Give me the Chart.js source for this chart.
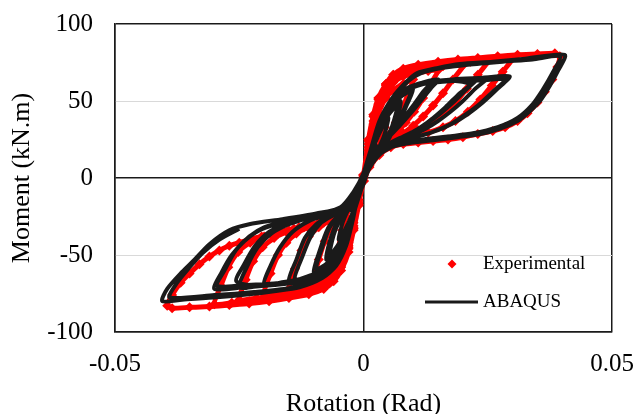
<!DOCTYPE html>
<html>
<head>
<meta charset="utf-8">
<script src="https://cdn.jsdelivr.net/npm/chart.js@4.4.0/dist/chart.umd.min.js"></script>
<style>
    html, body { margin: 0; padding: 0; background: #fff; }
    #wrap { width: 638px; height: 414px; }
</style>
</head>
<body>
<div id="wrap"><canvas id="hysteresisChart" width="638" height="414"></canvas></div>
<script>
// ==================== DATA ====================
const xTicks = [-0.05, 0, 0.05];
const yTicks = [-100, -50, 0, 50, 100];
const seriesNames = ['Experimental', 'ABAQUS'];

// test points [rotation (rad), moment (kN.m)], cycle by cycle
const experimentalPoints = [
    // +/-0.005
    [0, 0], [0.001, 14], [0.002, 26], [0.003, 35], [0.004, 41], [0.005, 45], [0.0043, 33], [0.0035, 24], [0.0025, 17], [0.0015, 10],
    [0, -2], [-0.001, -14], [-0.002, -26], [-0.003, -35], [-0.004, -42], [-0.005, -46], [-0.0043, -34], [-0.0035, -25], [-0.0025, -17], [-0.0015, -10], [0, 2],
    // +/-0.01
    [0.001, 18], [0.002, 32], [0.003, 42], [0.0045, 52], [0.006, 57], [0.008, 61], [0.01, 64], [0.009, 55], [0.0078, 45], [0.0065, 36], [0.005, 28], [0.0035, 21], [0.002, 14], [0.001, 8],
    [0, -2], [-0.001, -15], [-0.002, -29], [-0.003, -40], [-0.0045, -51], [-0.006, -57], [-0.008, -62], [-0.01, -66], [-0.009, -53], [-0.0078, -41], [-0.0065, -32], [-0.005, -26], [-0.0035, -21], [-0.002, -15], [-0.001, -8], [0, 2],
    // +/-0.015
    [0.001, 20], [0.002, 35], [0.003, 46], [0.0045, 56], [0.006, 62], [0.008, 66], [0.0105, 68], [0.013, 69.5], [0.015, 70], [0.0135, 61], [0.012, 52], [0.0102, 43], [0.0085, 36], [0.0068, 30], [0.005, 25], [0.003, 19], [0.0015, 10],
    [0, -2], [-0.001, -16], [-0.002, -31], [-0.003, -42], [-0.0045, -53], [-0.006, -60], [-0.008, -65], [-0.0105, -69], [-0.013, -71], [-0.015, -72], [-0.0138, -59], [-0.0125, -47], [-0.011, -38], [-0.009, -32], [-0.007, -28], [-0.005, -24], [-0.003, -19], [-0.0015, -11], [0, 2],
    // +/-0.02
    [0.001, 22], [0.002, 37], [0.003, 48], [0.0045, 58], [0.006, 64], [0.008, 68], [0.0105, 70], [0.013, 71.5], [0.016, 72.5], [0.02, 73], [0.018, 64], [0.016, 55], [0.014, 47], [0.012, 40], [0.01, 34], [0.008, 29], [0.006, 25], [0.004, 20], [0.002, 13],
    [0, -2], [-0.001, -17], [-0.002, -32], [-0.003, -44], [-0.0045, -56], [-0.006, -63], [-0.008, -68], [-0.0105, -71], [-0.013, -73], [-0.016, -74.5], [-0.02, -75.5], [-0.0187, -62], [-0.0172, -50], [-0.0155, -42], [-0.0135, -36], [-0.0112, -32], [-0.009, -29], [-0.0065, -26], [-0.004, -21], [-0.002, -13], [0, 2],
    // +/-0.025
    [0.001, 24], [0.002, 40], [0.003, 51], [0.0045, 60], [0.006, 66], [0.008, 69], [0.0105, 71], [0.014, 73], [0.018, 74.5], [0.0215, 75.5], [0.025, 76], [0.023, 67], [0.0208, 58], [0.0185, 49], [0.016, 42], [0.0135, 36], [0.011, 31], [0.0085, 27.5], [0.006, 24], [0.0035, 18], [0.0012, 8],
    [0, -2], [-0.001, -17], [-0.002, -33], [-0.003, -45], [-0.0045, -57], [-0.006, -64], [-0.008, -69], [-0.0105, -72], [-0.014, -75], [-0.018, -77], [-0.0215, -78], [-0.025, -79], [-0.0237, -66], [-0.0222, -54], [-0.0203, -45], [-0.018, -39], [-0.0155, -35], [-0.013, -32], [-0.0105, -30], [-0.008, -28], [-0.0055, -25], [-0.003, -18], [-0.0012, -9], [0, 2],
    // +/-0.03
    [0.001, 25], [0.002, 41], [0.003, 52], [0.0045, 61], [0.006, 67], [0.008, 70], [0.011, 72.5], [0.015, 74], [0.019, 75.5], [0.023, 76.5], [0.0265, 77.5], [0.03, 78], [0.028, 69], [0.0258, 60], [0.0235, 51], [0.021, 43], [0.0185, 37], [0.016, 33], [0.013, 29.5], [0.01, 27], [0.0075, 25], [0.005, 22], [0.003, 17], [0.0012, 8],
    [0, -2], [-0.001, -17], [-0.002, -33], [-0.003, -46], [-0.0045, -58], [-0.006, -65], [-0.008, -70], [-0.011, -74], [-0.015, -77], [-0.019, -79], [-0.023, -80], [-0.0265, -81], [-0.03, -82], [-0.0287, -70], [-0.0272, -58], [-0.0252, -48], [-0.0228, -42], [-0.02, -38], [-0.017, -35], [-0.014, -33], [-0.011, -31], [-0.008, -29], [-0.0055, -26], [-0.003, -19], [-0.0012, -9], [0, 2],
    // +/-0.04
    [0.001, 25], [0.002, 41], [0.003, 52], [0.0045, 61], [0.006, 67], [0.008, 71], [0.011, 73.5], [0.015, 75.5], [0.019, 77], [0.023, 78], [0.027, 79], [0.031, 80], [0.035, 80.5], [0.0385, 81], [0.0395, 79],
    [0.039, 72], [0.038, 64], [0.0365, 56], [0.035, 49], [0.033, 42], [0.031, 37], [0.0285, 33], [0.026, 30.5], [0.023, 28.5], [0.02, 26.5], [0.017, 25], [0.014, 24], [0.011, 23], [0.008, 22], [0.0055, 20], [0.0032, 15], [0.0012, 7],
    [0, -2], [-0.001, -18], [-0.002, -34], [-0.003, -48], [-0.0045, -60], [-0.006, -67], [-0.008, -72], [-0.011, -75.5], [-0.015, -78], [-0.019, -80], [-0.023, -81.5], [-0.027, -82.5], [-0.031, -83.5], [-0.035, -84], [-0.0385, -84.5], [-0.0395, -83],
    [-0.0385, -76], [-0.0368, -68], [-0.035, -62], [-0.033, -56], [-0.031, -51], [-0.029, -47], [-0.027, -44], [-0.025, -42], [-0.023, -40], [-0.0205, -38], [-0.018, -36], [-0.015, -34], [-0.012, -32], [-0.009, -30], [-0.006, -27], [-0.003, -19], [-0.0012, -9], [0, 1]
];

// finite element result, same loading history
const abaqusPoints = [
    // +/-0.0025
    [0, 0], [0.0012, 11], [0.0025, 21], [0.0018, 12], [0.0008, 4], [0, -4], [-0.0012, -12], [-0.0025, -21], [-0.0018, -12], [-0.0008, -4], [0, 3],
    // +/-0.005
    [0.0012, 13], [0.0025, 24], [0.0038, 33], [0.005, 39], [0.0042, 28], [0.003, 19], [0.0015, 10], [0, -1],
    [-0.0012, -13], [-0.0025, -25], [-0.0038, -34], [-0.005, -40], [-0.0042, -29], [-0.003, -20], [-0.0015, -11], [0, 2],
    // +/-0.0075 (two cycles)
    [0.0015, 16], [0.003, 29], [0.005, 41], [0.0075, 50], [0.0066, 37], [0.0052, 26], [0.0035, 19], [0.0018, 13], [0, 0],
    [-0.0015, -15], [-0.003, -30], [-0.005, -43], [-0.0075, -53], [-0.0066, -39], [-0.0052, -28], [-0.0035, -20], [-0.0018, -14], [0, 2],
    [0.0015, 17], [0.003, 30], [0.0048, 40], [0.0068, 47], [0.0058, 34], [0.0045, 25], [0.003, 18], [0.0015, 11], [0, -1],
    [-0.0015, -16], [-0.003, -31], [-0.0048, -42], [-0.0068, -50], [-0.006, -37], [-0.0047, -27], [-0.0032, -19], [-0.0016, -12], [0, 2],
    // +/-0.01 (two cycles)
    [0.0015, 17], [0.003, 31], [0.005, 43], [0.0075, 53], [0.01, 58], [0.0088, 48], [0.0072, 37], [0.0055, 28], [0.0035, 21], [0.0015, 11], [0, -2],
    [-0.0015, -17], [-0.003, -32], [-0.005, -46], [-0.0075, -56], [-0.01, -61], [-0.0088, -47], [-0.0072, -33], [-0.0052, -25], [-0.003, -20], [-0.0012, -9], [0, 3],
    [0.0015, 17], [0.003, 31], [0.005, 43], [0.0072, 52], [0.0095, 56], [0.0082, 45], [0.0066, 34], [0.0048, 26], [0.003, 20], [0.0013, 10], [0, -2],
    [-0.0015, -17], [-0.003, -32], [-0.005, -46], [-0.0072, -55], [-0.0095, -59], [-0.0083, -45], [-0.0068, -32], [-0.005, -25], [-0.0028, -19], [-0.0012, -9], [0, 3],
    // +/-0.015 (two cycles)
    [0.0015, 18], [0.003, 32], [0.005, 45], [0.0075, 55], [0.011, 61], [0.015, 64], [0.0135, 58], [0.0115, 50], [0.0095, 42], [0.0073, 34], [0.0052, 27], [0.0032, 20], [0.0013, 9], [0, -3],
    [-0.0015, -18], [-0.003, -33], [-0.005, -48], [-0.0075, -58], [-0.011, -64], [-0.015, -67], [-0.0135, -53], [-0.0118, -39], [-0.0095, -30], [-0.0065, -24], [-0.0035, -20], [-0.0013, -9], [0, 3],
    [0.0015, 18], [0.003, 32], [0.005, 45], [0.0075, 55], [0.0105, 60], [0.0135, 62], [0.012, 56], [0.0102, 48], [0.0083, 40], [0.0063, 32], [0.0045, 25], [0.0027, 18], [0.0012, 8], [0, -3],
    [-0.0015, -18], [-0.003, -33], [-0.005, -48], [-0.0075, -58], [-0.0105, -63], [-0.0138, -65.5], [-0.0123, -51], [-0.0106, -38], [-0.0085, -29], [-0.006, -24], [-0.0033, -19], [-0.0013, -9], [0, 3],
    // +/-0.02
    [0.0015, 18], [0.003, 32], [0.005, 46], [0.008, 56], [0.012, 61], [0.016, 63.5], [0.0214, 61], [0.019, 54], [0.0165, 46], [0.014, 39], [0.0115, 33], [0.009, 28], [0.0065, 24], [0.0038, 19], [0.0014, 9], [0, -3],
    [-0.0015, -18], [-0.003, -33], [-0.005, -49], [-0.008, -60], [-0.012, -65], [-0.016, -67.5], [-0.02, -69], [-0.0187, -57], [-0.0168, -45], [-0.0143, -35], [-0.011, -28], [-0.0075, -24], [-0.004, -20], [-0.0014, -9], [0, 3],
    // +/-0.025 (two cycles)
    [0.0015, 18], [0.003, 32], [0.005, 46], [0.008, 56], [0.012, 61], [0.017, 63], [0.0228, 64.5], [0.0205, 57], [0.018, 49], [0.0155, 42], [0.013, 36], [0.0105, 31], [0.008, 27], [0.0055, 23], [0.003, 17], [0.0012, 8], [0, -3],
    [-0.0015, -18], [-0.003, -34], [-0.005, -50], [-0.008, -61], [-0.012, -66], [-0.017, -68.5], [-0.021, -70], [-0.0256, -67], [-0.024, -56], [-0.0218, -44], [-0.019, -35], [-0.0155, -30], [-0.0115, -26.5], [-0.0075, -23.5], [-0.004, -20], [-0.0014, -9], [0, 3],
    [0.0015, 18], [0.003, 32], [0.005, 46], [0.008, 56], [0.012, 61], [0.017, 63], [0.0248, 65], [0.0225, 58], [0.02, 50], [0.0175, 43], [0.015, 37], [0.0125, 32], [0.0098, 28], [0.007, 24.5], [0.004, 19], [0.0014, 9], [0, -3],
    [-0.0015, -18], [-0.003, -34], [-0.005, -50], [-0.008, -61], [-0.012, -66], [-0.017, -68.5], [-0.021, -70], [-0.025, -71], [-0.0235, -58], [-0.0213, -45], [-0.0185, -36], [-0.015, -30], [-0.011, -26], [-0.007, -23], [-0.0038, -20], [-0.0014, -9], [0, 3],
    // +/-0.03, first cycle
    [0.0015, 18], [0.003, 32], [0.005, 46], [0.008, 57], [0.012, 62], [0.018, 64], [0.024, 65], [0.0294, 66], [0.027, 58], [0.024, 49], [0.021, 41.5], [0.018, 35.5], [0.015, 31], [0.012, 28], [0.0085, 25], [0.005, 21], [0.0025, 14], [0.001, 5], [0, -3],
    [-0.0015, -18], [-0.003, -34], [-0.005, -50], [-0.008, -62], [-0.012, -67], [-0.018, -69.5], [-0.024, -71], [-0.03, -72], [-0.0285, -61], [-0.0265, -50], [-0.024, -41], [-0.021, -34], [-0.0175, -30], [-0.013, -27], [-0.0085, -24], [-0.0045, -20], [-0.0015, -10], [0, 3],
    // +/-0.03, second cycle
    [0.0015, 17], [0.003, 31], [0.005, 45], [0.008, 56], [0.012, 61], [0.018, 63], [0.024, 63.5], [0.0285, 64], [0.026, 56], [0.023, 47], [0.02, 40], [0.017, 34], [0.014, 30], [0.011, 27], [0.0075, 24], [0.0045, 20], [0.002, 12], [0, -3],
    [-0.0015, -17], [-0.003, -33], [-0.005, -49], [-0.008, -61], [-0.012, -66], [-0.018, -68.5], [-0.024, -69.5], [-0.0294, -70], [-0.0278, -59], [-0.0257, -47], [-0.023, -38], [-0.02, -32], [-0.016, -28.5], [-0.0115, -25.5], [-0.007, -22], [-0.0035, -17], [-0.0012, -8], [0, 3],
    // +/-0.04, first cycle
    [0.0015, 19], [0.0032, 37], [0.0058, 52], [0.0085, 62], [0.0107, 68], [0.015, 71.5], [0.0194, 74], [0.026, 75.5], [0.0325, 77.5], [0.0405, 80],
    [0.0392, 70], [0.0375, 60], [0.0355, 50], [0.033, 42], [0.031, 37], [0.0275, 32], [0.0235, 28.5], [0.019, 26.5], [0.014, 24.5], [0.009, 22.5], [0.0055, 20], [0.003, 15], [0.0012, 7], [0, -2],
    [-0.0012, -13], [-0.0022, -28], [-0.0035, -44], [-0.0055, -57], [-0.0083, -65], [-0.0129, -71], [-0.018, -73.5], [-0.023, -75.5], [-0.0295, -77.5], [-0.0365, -79], [-0.0405, -80],
    [-0.0395, -72], [-0.0365, -61], [-0.034, -53], [-0.031, -43], [-0.027, -34], [-0.023, -30], [-0.0163, -26.7], [-0.0095, -23], [-0.0048, -19.5], [-0.002, -9], [0, 3],
    // +/-0.04, second cycle
    [0.0015, 18], [0.0032, 36], [0.006, 52], [0.009, 63], [0.0115, 68], [0.016, 71.5], [0.021, 73.5], [0.028, 75.5], [0.034, 77], [0.0395, 79],
    [0.038, 68], [0.036, 57], [0.0338, 47], [0.031, 39], [0.027, 33], [0.022, 29], [0.017, 27], [0.012, 25], [0.007, 22], [0.0035, 16], [0.0013, 7], [0, -3],
    [-0.0013, -15], [-0.0025, -30], [-0.004, -46], [-0.0065, -59], [-0.01, -67], [-0.015, -71.5], [-0.022, -74], [-0.03, -76], [-0.039, -77.5],
    [-0.0375, -68], [-0.035, -58], [-0.0325, -49], [-0.029, -40], [-0.025, -33]
];

document.addEventListener('DOMContentLoaded', function() {
    const serif = '"Liberation Serif", "Times New Roman", serif';
    const ctx = document.getElementById('hysteresisChart').getContext('2d');

    // legend sits inside the plot, lower right
    const insideLegend = {
        id: 'insideLegend',
        afterDraw(chart) {
            const c = chart.ctx;
            const area = chart.chartArea;
            const textX = area.right - 129;
            const row1 = area.bottom - 68;
            const row2 = area.bottom - 30;
            c.save();
            // red diamond
            const dx = area.right - 160, r = 4.5;
            c.fillStyle = '#ff0000';
            c.beginPath();
            c.moveTo(dx, row1 - r);
            c.lineTo(dx + r, row1);
            c.lineTo(dx, row1 + r);
            c.lineTo(dx - r, row1);
            c.closePath();
            c.fill();
            // black line
            c.strokeStyle = '#1a1a1a';
            c.lineWidth = 3;
            c.beginPath();
            c.moveTo(area.right - 187, row2);
            c.lineTo(area.right - 134, row2);
            c.stroke();
            // labels
            c.fillStyle = '#000';
            c.font = '19px ' + serif;
            c.textBaseline = 'middle';
            c.textAlign = 'left';
            c.fillText(seriesNames[0], textX, row1);
            c.fillText(seriesNames[1], textX, row2);
            c.restore();
        }
    };

    const toXY = pts => pts.map(p => ({x: p[0], y: p[1]}));
    const isZero = v => Math.abs(v) < 1e-9;

    new Chart(ctx, {
        type: 'scatter',
        data: {
            datasets: [{
                label: seriesNames[1],
                data: toXY(abaqusPoints),
                showLine: true,
                borderColor: '#1a1a1a',
                borderWidth: 4,
                tension: 0.25,
                pointRadius: 0,
                order: 0
            }, {
                label: seriesNames[0],
                data: toXY(experimentalPoints),
                showLine: true,
                borderColor: '#ff0000',
                borderWidth: 5,
                backgroundColor: '#ff0000',
                pointStyle: 'rectRot',
                pointRadius: 5,
                pointBorderWidth: 0,
                tension: 0.2,
                order: 1
            }]
        },
        options: {
            responsive: false,
            animation: false,
            layout: {
                padding: { left: 0, right: 26, top: 24, bottom: 0 }
            },
            scales: {
                x: {
                    type: 'linear',
                    min: -0.05,
                    max: 0.05,
                    afterBuildTicks: s => { s.ticks = xTicks.map(v => ({value: v})); },
                    afterFit: s => { s.height = 82; s.paddingLeft = 0; s.paddingRight = 0; },
                    ticks: {
                        color: '#000',
                        padding: 17,
                        font: { family: serif, size: 25 },
                        callback: v => isZero(v) ? '0' : v.toFixed(2)
                    },
                    grid: {
                        drawTicks: false,
                        color: '#1a1a1a',
                        lineWidth: 1.5
                    },
                    border: { display: true, color: '#1a1a1a', width: 1.5 },
                    title: {
                        display: true,
                        text: 'Rotation (Rad)',
                        color: '#000',
                        padding: 0,
                        font: { family: serif, size: 26, lineHeight: 0.77 }
                    }
                },
                y: {
                    type: 'linear',
                    min: -100,
                    max: 100,
                    afterBuildTicks: s => { s.ticks = yTicks.map(v => ({value: v})); },
                    afterFit: s => { s.width = 115; s.paddingTop = 0; s.paddingBottom = 0; },
                    ticks: {
                        color: '#000',
                        padding: 22,
                        font: { family: serif, size: 25 },
                        callback: v => String(v)
                    },
                    grid: {
                        drawTicks: false,
                        color: c => Math.abs(c.tick.value) === 50 ? '#d9d9d9' : '#1a1a1a',
                        lineWidth: c => Math.abs(c.tick.value) === 50 ? 1 : 1.5
                    },
                    border: { display: true, color: '#1a1a1a', width: 1.5 },
                    title: {
                        display: true,
                        text: 'Moment (kN.m)',
                        color: '#000',
                        padding: { top: 9, bottom: 0 },
                        font: { family: serif, size: 26, lineHeight: 1 }
                    }
                }
            },
            plugins: {
                legend: { display: false },
                tooltip: { enabled: false }
            }
        },
        plugins: [insideLegend]
    });
});
</script>
</body>
</html>
